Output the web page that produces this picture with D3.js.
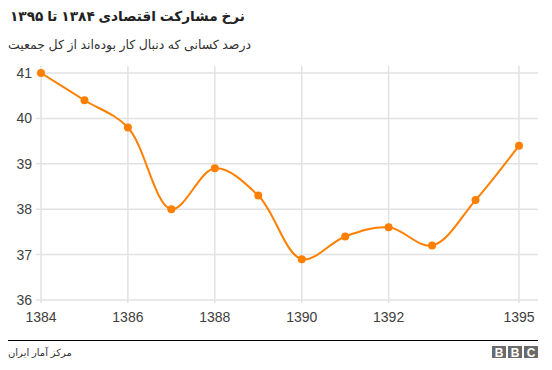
<!DOCTYPE html>
<html>
<head>
<meta charset="utf-8">
<script src="https://cdn.jsdelivr.net/npm/d3@7"></script>
<style>
  body { margin: 0; background: #fff; }
  svg text { font-family: "Liberation Sans", Arial, "DejaVu Sans", sans-serif; }
</style>
</head>
<body>
<div id="chart"></div>
<script>
// data
const years = [1384, 1385, 1386, 1387, 1388, 1389, 1390, 1391, 1392, 1393, 1394, 1395];
const rates = [41, 40.4, 39.8, 38.0, 38.9, 38.3, 36.9, 37.4, 37.6, 37.2, 38.2, 39.4];
const xTicks = [1384, 1386, 1388, 1390, 1392, 1395];
const yTicks = [36, 37, 38, 39, 40, 41];

const titleText = "نرخ مشارکت اقتصادی ۱۳۸۴ تا ۱۳۹۵";
const subtitleText = "درصد کسانی که دنبال کار بوده‌اند از کل جمعیت";
const sourceText = "مرکز آمار ایران";

const width = 552, height = 370;
const orange = "#ff7f00";

const svg = d3.select("#chart").append("svg")
  .attr("width", width)
  .attr("height", height);

const x = d3.scaleLinear().domain([1384, 1395]).range([41, 519]);
const y = d3.scaleLinear().domain([36, 41]).range([300, 73]);

// titles
svg.append("text")
  .attr("x", 10).attr("y", 21)
  .attr("direction", "rtl")
  .attr("text-anchor", "end")
  .style("font-size", "13.7px")
  .style("font-weight", "bold")
  .attr("fill", "#222")
  .text(titleText);

svg.append("text")
  .attr("x", 8).attr("y", 49)
  .attr("direction", "rtl")
  .attr("text-anchor", "end")
  .style("font-size", "12.5px")
  .attr("fill", "#333")
  .text(subtitleText);

// grid
const grid = svg.append("g");
grid.selectAll(".h").data(yTicks).enter().append("line")
  .attr("x1", 36).attr("x2", 538)
  .attr("y1", d => y(d)).attr("y2", d => y(d))
  .attr("stroke", "#e2e2e2").attr("stroke-width", 1.5);
grid.selectAll(".v").data(xTicks).enter().append("line")
  .attr("x1", d => x(d)).attr("x2", d => x(d))
  .attr("y1", 66).attr("y2", 303)
  .attr("stroke", "#e2e2e2").attr("stroke-width", 1.5);

// axis labels
svg.append("g").selectAll("text").data(yTicks).enter().append("text")
  .attr("x", 32).attr("y", d => y(d) + 5)
  .attr("text-anchor", "end")
  .style("font-size", "14px")
  .attr("fill", "#404040")
  .text(d => d);

svg.append("g").selectAll("text").data(xTicks).enter().append("text")
  .attr("x", d => x(d)).attr("y", 322)
  .attr("text-anchor", "middle")
  .style("font-size", "14px")
  .attr("fill", "#404040")
  .text(d => d);

// line + points
const data = years.map((yr, i) => ({year: yr, value: rates[i]}));

const line = d3.line()
  .x(d => x(d.year))
  .y(d => y(d.value))
  .curve(d3.curveCatmullRom.alpha(0.5));

svg.append("path")
  .datum(data)
  .attr("d", line)
  .attr("fill", "none")
  .attr("stroke", orange)
  .attr("stroke-width", 2);

svg.append("g").selectAll("circle").data(data).enter().append("circle")
  .attr("cx", d => x(d.year))
  .attr("cy", d => y(d.value))
  .attr("r", 4)
  .attr("fill", orange);

// footer
svg.append("line")
  .attr("x1", 8).attr("x2", 538)
  .attr("y1", 340.5).attr("y2", 340.5)
  .attr("stroke", "#000").attr("stroke-width", 1);

svg.append("text")
  .attr("x", 8).attr("y", 356)
  .attr("direction", "rtl")
  .attr("text-anchor", "end")
  .style("font-size", "10px")
  .attr("fill", "#333")
  .text(sourceText);

// BBC blocks
const bbc = svg.append("g").attr("transform", "translate(492,346)");
["B", "B", "C"].forEach((ch, i) => {
  bbc.append("rect")
    .attr("x", i * 16).attr("y", 0)
    .attr("width", 14).attr("height", 12)
    .attr("fill", "#6b6b6b");
  bbc.append("text")
    .attr("x", i * 16 + 7).attr("y", 10.5)
    .attr("text-anchor", "middle")
    .style("font-size", "12px")
    .style("font-weight", "bold")
    .attr("fill", "#fff")
    .text(ch);
});
</script>
</body>
</html>
